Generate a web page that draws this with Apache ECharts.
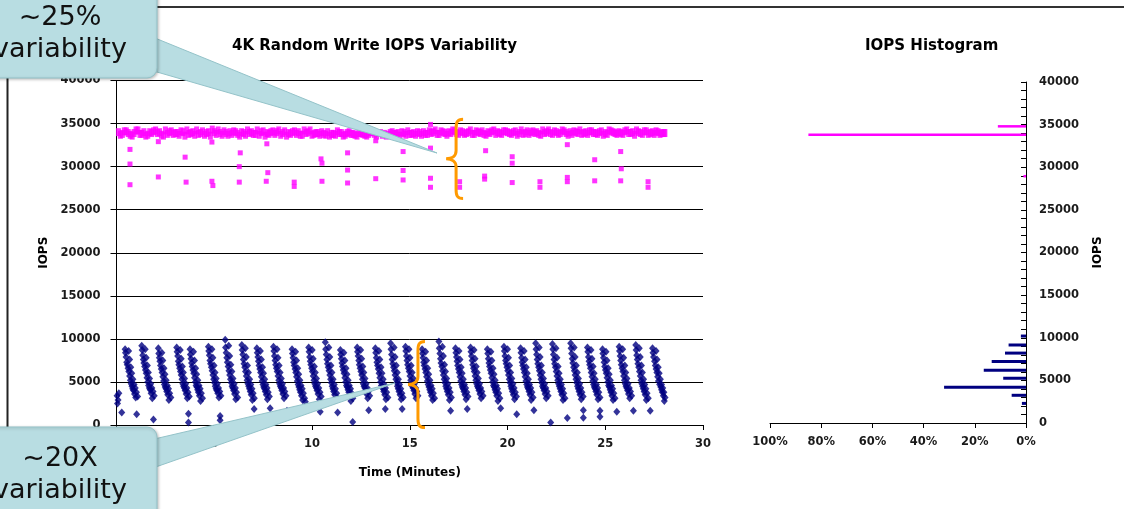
<!DOCTYPE html>
<html>
<head>
<meta charset="utf-8">
<script src="https://cdn.jsdelivr.net/npm/echarts@6/dist/echarts.min.js"></script>
<style>
html,body{margin:0;padding:0;background:#fff;}
#c{width:1124px;height:509px;}
</style>
</head>
<body>
<div id="c"></div>
<script>
// ---------- DATA ----------
const chartTitle = '4K Random Write IOPS Variability';
const histTitle = 'IOPS Histogram';
const xAxisName = 'Time (Minutes)';
const yAxisName = 'IOPS';

// Blue series (lower, ~20X variability): [minutes, IOPS]
const blueIops = [
[0.03,3400],[0.05,2500],[0.08,2900],[0.12,3700],
[0.44,8800],[0.46,8400],[0.49,7900],[0.52,7300],[0.55,7000],[0.59,6600],[0.63,6200],[0.67,5700],[0.71,5200],[0.75,4800],[0.79,4500],[0.83,4200],[0.87,4000],[0.92,3600],[0.98,3200],
[1.29,9200],[1.31,8700],[1.34,8100],[1.37,7600],[1.40,7200],[1.44,6800],[1.48,6400],[1.52,6000],[1.56,5500],[1.60,5000],[1.64,4600],[1.68,4300],[1.72,4100],[1.77,3700],[1.83,3100],
[2.14,8900],[2.16,8300],[2.19,7800],[2.22,7400],[2.25,6900],[2.29,6500],[2.33,6100],[2.37,5600],[2.41,5100],[2.45,4700],[2.49,4400],[2.53,4200],[2.57,3900],[2.62,3500],[2.68,2900],
[3.08,9000],[3.10,8500],[3.13,8000],[3.16,7400],[3.19,7000],[3.23,6600],[3.27,6200],[3.31,5800],[3.35,5300],[3.39,4800],[3.43,4500],[3.47,4300],[3.51,4000],[3.56,3600],[3.62,3100],
[3.76,8800],[3.78,8200],[3.81,7700],[3.84,7200],[3.87,6800],[3.91,6400],[3.95,6000],[3.99,5500],[4.03,5000],[4.07,4600],[4.11,4400],[4.15,4100],[4.19,3800],[4.24,3400],[4.30,2800],
[4.70,9100],[4.72,8600],[4.75,8100],[4.78,7500],[4.81,7100],[4.85,6700],[4.89,6300],[4.93,5800],[4.97,5300],[5.01,4900],[5.05,4500],[5.09,4200],[5.13,4000],[5.18,3700],[5.24,3200],
[5.56,9900],[5.58,9000],[5.61,8400],[5.64,7800],[5.67,7300],[5.71,6800],[5.75,6300],[5.79,5800],[5.83,5300],[5.87,4900],[5.91,4500],[5.95,4300],[5.99,4000],[6.04,3600],[6.10,3000],
[6.41,9300],[6.43,8700],[6.46,8200],[6.49,7600],[6.52,7100],[6.56,6700],[6.60,6200],[6.64,5700],[6.68,5200],[6.72,4800],[6.76,4500],[6.80,4200],[6.84,3900],[6.89,3500],[6.95,2900],
[7.18,8900],[7.20,8400],[7.23,7900],[7.26,7400],[7.29,6900],[7.33,6500],[7.37,6100],[7.41,5600],[7.45,5100],[7.49,4700],[7.53,4400],[7.57,4200],[7.61,3900],[7.66,3500],[7.72,3000],
[8.03,9100],[8.05,8600],[8.08,8000],[8.11,7500],[8.14,7000],[8.18,6600],[8.22,6200],[8.26,5700],[8.30,5200],[8.34,4800],[8.38,4500],[8.42,4300],[8.46,4000],[8.51,3600],[8.57,3100],
[8.98,8800],[9.00,8300],[9.03,7800],[9.06,7300],[9.09,6900],[9.13,6500],[9.17,6100],[9.21,5600],[9.25,5100],[9.29,4700],[9.33,4400],[9.37,4100],[9.41,3800],[9.46,3400],[9.52,2900],
[9.83,9000],[9.85,8500],[9.88,7900],[9.91,7400],[9.94,7000],[9.98,6600],[10.02,6200],[10.06,5700],[10.10,5200],[10.14,4800],[10.18,4500],[10.22,4300],[10.26,4000],[10.31,3600],[10.37,3000],
[10.68,9600],[10.70,8800],[10.73,8200],[10.76,7600],[10.79,7100],[10.83,6700],[10.87,6300],[10.91,5800],[10.95,5300],[10.99,4900],[11.03,4500],[11.07,4200],[11.11,3900],[11.16,3500],[11.22,2900],
[11.45,8700],[11.47,8200],[11.50,7700],[11.53,7200],[11.56,6800],[11.60,6400],[11.64,6000],[11.68,5500],[11.72,5000],[11.76,4600],[11.80,4400],[11.84,4100],[11.88,3800],[11.93,3400],[11.99,2800],
[12.31,9000],[12.33,8500],[12.36,8000],[12.39,7500],[12.42,7000],[12.46,6600],[12.50,6200],[12.54,5800],[12.58,5300],[12.62,4800],[12.66,4500],[12.70,4300],[12.74,4000],[12.79,3600],[12.85,3100],
[13.24,8900],[13.26,8400],[13.29,7800],[13.32,7300],[13.35,6900],[13.39,6500],[13.43,6000],[13.47,5500],[13.51,5000],[13.55,4600],[13.59,4400],[13.63,4200],[13.67,3900],[13.72,3500],[13.78,3000],
[14.02,9500],[14.04,8800],[14.07,8200],[14.10,7600],[14.13,7100],[14.17,6700],[14.21,6300],[14.25,5800],[14.29,5300],[14.33,4900],[14.37,4500],[14.41,4200],[14.45,3900],[14.50,3500],[14.56,3000],
[14.78,9100],[14.80,8600],[14.83,8000],[14.86,7500],[14.89,7000],[14.93,6600],[14.97,6200],[15.01,5700],[15.05,5200],[15.09,4800],[15.13,4500],[15.17,4300],[15.21,4000],[15.26,3600],[15.32,3100],
[15.63,8800],[15.65,8300],[15.68,7800],[15.71,7300],[15.74,6900],[15.78,6500],[15.82,6100],[15.86,5600],[15.90,5100],[15.94,4700],[15.98,4400],[16.02,4100],[16.06,3800],[16.11,3400],[16.17,2900],
[16.49,9700],[16.51,8900],[16.54,8300],[16.57,7700],[16.60,7200],[16.64,6800],[16.68,6300],[16.72,5800],[16.76,5300],[16.80,4900],[16.84,4500],[16.88,4200],[16.92,3900],[16.97,3500],[17.03,2900],
[17.34,8900],[17.36,8400],[17.39,7900],[17.42,7400],[17.45,6900],[17.49,6500],[17.53,6100],[17.57,5600],[17.61,5100],[17.65,4700],[17.69,4400],[17.73,4200],[17.77,3900],[17.82,3500],[17.88,3000],
[18.11,9000],[18.13,8500],[18.16,8000],[18.19,7500],[18.22,7000],[18.26,6600],[18.30,6200],[18.34,5700],[18.38,5200],[18.42,4800],[18.46,4500],[18.50,4300],[18.54,4000],[18.59,3600],[18.65,3100],
[18.97,8800],[18.99,8300],[19.02,7700],[19.05,7200],[19.08,6800],[19.12,6400],[19.16,6000],[19.20,5500],[19.24,5000],[19.28,4600],[19.32,4400],[19.36,4100],[19.40,3800],[19.45,3400],[19.51,2800],
[19.82,9100],[19.84,8600],[19.87,8000],[19.90,7500],[19.93,7100],[19.97,6700],[20.01,6300],[20.05,5800],[20.09,5300],[20.13,4900],[20.17,4500],[20.21,4200],[20.25,3900],[20.30,3500],[20.36,3000],
[20.67,8900],[20.69,8400],[20.72,7800],[20.75,7300],[20.78,6900],[20.82,6500],[20.86,6100],[20.90,5600],[20.94,5100],[20.98,4700],[21.02,4400],[21.06,4200],[21.10,3900],[21.15,3500],[21.21,2900],
[21.44,9500],[21.46,8800],[21.49,8200],[21.52,7600],[21.55,7100],[21.59,6700],[21.63,6300],[21.67,5800],[21.71,5300],[21.75,4900],[21.79,4500],[21.83,4300],[21.87,4000],[21.92,3600],[21.98,3100],
[22.30,9400],[22.32,8800],[22.35,8200],[22.38,7600],[22.41,7100],[22.45,6700],[22.49,6200],[22.53,5700],[22.57,5200],[22.61,4800],[22.65,4500],[22.69,4200],[22.73,3900],[22.78,3500],[22.84,2900],
[23.23,9500],[23.25,8900],[23.28,8300],[23.31,7700],[23.34,7200],[23.38,6700],[23.42,6300],[23.46,5800],[23.50,5300],[23.54,4900],[23.58,4500],[23.62,4200],[23.66,3900],[23.71,3500],[23.77,3000],
[24.09,9000],[24.11,8500],[24.14,7900],[24.17,7400],[24.20,7000],[24.24,6600],[24.28,6100],[24.32,5600],[24.36,5100],[24.40,4700],[24.44,4400],[24.48,4200],[24.52,3900],[24.57,3500],[24.63,3000],
[24.86,8800],[24.88,8300],[24.91,7800],[24.94,7300],[24.97,6800],[25.01,6400],[25.05,6000],[25.09,5500],[25.13,5000],[25.17,4600],[25.21,4400],[25.25,4100],[25.29,3800],[25.34,3400],[25.40,2900],
[25.71,9100],[25.73,8600],[25.76,8000],[25.79,7500],[25.82,7000],[25.86,6600],[25.90,6200],[25.94,5700],[25.98,5200],[26.02,4800],[26.06,4500],[26.10,4300],[26.14,4000],[26.19,3600],[26.25,3100],
[26.56,9300],[26.58,8700],[26.61,8100],[26.64,7600],[26.67,7100],[26.71,6700],[26.75,6200],[26.79,5700],[26.83,5200],[26.87,4800],[26.91,4500],[26.95,4200],[26.99,3900],[27.04,3500],[27.10,2900],
[27.42,8900],[27.44,8400],[27.47,7900],[27.52,7400],[27.56,6900],[27.60,6500],[27.64,6100],[27.68,5600],[27.72,5100],[27.78,4700],[27.84,4400],[27.88,4100],[27.92,3800],[27.97,3400],[28.02,2800]
];
// second, trailing strand of each burst
const blueTrail = [
[0.62,8600],[0.67,7600],[0.73,6700],[0.78,6000],[0.84,5300],[0.90,4700],[0.96,4300],[1.02,3800],[1.08,3300],
[1.47,8800],[1.52,7800],[1.58,6900],[1.63,6100],[1.69,5400],[1.75,4800],[1.81,4300],[1.87,3900],[1.93,3400],
[2.32,8400],[2.37,7500],[2.43,6600],[2.48,5900],[2.54,5200],[2.60,4600],[2.66,4200],[2.72,3700],[2.78,3200],
[3.26,8700],[3.31,7700],[3.37,6800],[3.42,6100],[3.48,5400],[3.54,4800],[3.60,4300],[3.66,3800],[3.72,3300],
[3.94,8500],[3.99,7500],[4.05,6600],[4.10,5900],[4.16,5200],[4.22,4600],[4.28,4200],[4.34,3700],[4.40,3100],
[4.88,8800],[4.93,7800],[4.99,6900],[5.04,6100],[5.10,5400],[5.16,4800],[5.22,4300],[5.28,3900],[5.34,3400],
[5.74,9200],[5.79,8000],[5.85,7000],[5.90,6200],[5.96,5400],[6.02,4800],[6.08,4300],[6.14,3800],[6.20,3200],
[6.59,8900],[6.64,7900],[6.70,6900],[6.75,6100],[6.81,5300],[6.87,4700],[6.93,4200],[6.99,3700],[7.05,3100],
[7.36,8600],[7.41,7600],[7.47,6700],[7.52,6000],[7.58,5300],[7.64,4700],[7.70,4300],[7.76,3800],[7.82,3300],
[8.21,8800],[8.26,7800],[8.32,6900],[8.37,6100],[8.43,5400],[8.49,4800],[8.55,4300],[8.61,3900],[8.67,3400],
[9.16,8500],[9.21,7500],[9.27,6600],[9.32,5900],[9.38,5200],[9.44,4600],[9.50,4200],[9.56,3700],[9.62,3100],
[10.01,8700],[10.06,7700],[10.12,6800],[10.17,6100],[10.23,5400],[10.29,4800],[10.35,4300],[10.41,3800],[10.47,3300],
[10.86,9000],[10.91,7900],[10.97,6900],[11.02,6100],[11.08,5300],[11.14,4700],[11.20,4200],[11.26,3700],[11.32,3100],
[11.63,8400],[11.68,7500],[11.74,6600],[11.79,5900],[11.85,5200],[11.91,4600],[11.97,4200],[12.03,3700],[12.09,3100],
[12.49,8700],[12.54,7700],[12.60,6800],[12.65,6100],[12.71,5400],[12.77,4800],[12.83,4300],[12.89,3900],[12.95,3400],
[13.42,8600],[13.47,7600],[13.53,6700],[13.58,6000],[13.64,5300],[13.70,4700],[13.76,4300],[13.82,3800],[13.88,3200],
[14.20,9000],[14.25,7900],[14.31,6900],[14.36,6100],[14.42,5300],[14.48,4700],[14.54,4200],[14.60,3700],[14.66,3200],
[14.96,8800],[15.01,7800],[15.07,6900],[15.12,6100],[15.18,5400],[15.24,4800],[15.30,4300],[15.36,3900],[15.42,3400],
[15.81,8500],[15.86,7500],[15.92,6600],[15.97,5900],[16.03,5200],[16.09,4600],[16.15,4200],[16.21,3700],[16.27,3100],
[16.67,9100],[16.72,8000],[16.78,7000],[16.83,6200],[16.89,5400],[16.95,4800],[17.01,4300],[17.07,3800],[17.13,3200],
[17.52,8600],[17.57,7600],[17.63,6700],[17.68,6000],[17.74,5300],[17.80,4700],[17.86,4300],[17.92,3800],[17.98,3300],
[18.29,8700],[18.34,7700],[18.40,6800],[18.45,6100],[18.51,5400],[18.57,4800],[18.63,4300],[18.69,3900],[18.75,3400],
[19.15,8500],[19.20,7500],[19.26,6600],[19.31,5900],[19.37,5200],[19.43,4600],[19.49,4200],[19.55,3700],[19.61,3100],
[20.00,8800],[20.05,7800],[20.11,6900],[20.16,6100],[20.22,5400],[20.28,4800],[20.34,4300],[20.40,3800],[20.46,3300],
[20.85,8600],[20.90,7600],[20.96,6700],[21.01,6000],[21.07,5300],[21.13,4700],[21.19,4300],[21.25,3800],[21.31,3200],
[21.62,9000],[21.67,7900],[21.73,6900],[21.78,6100],[21.84,5400],[21.90,4800],[21.96,4300],[22.02,3900],[22.08,3400],
[22.48,8900],[22.53,7800],[22.59,6800],[22.64,6000],[22.70,5300],[22.76,4700],[22.82,4200],[22.88,3700],[22.94,3100],
[23.41,9000],[23.46,7900],[23.52,6900],[23.57,6100],[23.63,5400],[23.69,4800],[23.75,4300],[23.81,3800],[23.87,3300],
[24.27,8700],[24.32,7700],[24.38,6800],[24.43,6000],[24.49,5300],[24.55,4700],[24.61,4300],[24.67,3800],[24.73,3200],
[25.04,8500],[25.09,7500],[25.15,6600],[25.20,5900],[25.26,5200],[25.32,4600],[25.38,4200],[25.44,3700],[25.50,3100],
[25.89,8800],[25.94,7800],[26.00,6900],[26.05,6100],[26.11,5400],[26.17,4800],[26.23,4300],[26.29,3900],[26.35,3400],
[26.74,8900],[26.79,7900],[26.85,6900],[26.90,6100],[26.96,5300],[27.02,4700],[27.08,4200],[27.14,3700],[27.20,3100],
[27.60,8600],[27.65,7600],[27.71,6700],[27.76,6000],[27.82,5300],[27.88,4700],[27.94,4300],[28.00,3800],[28.06,3200]
];
const blueLow = [
[0.27,1450],[1.03,1250],[1.89,650],[3.68,1300],[3.68,300],[5.30,1050],[5.30,550],[7.04,1850],[7.86,1950],[8.72,1650],
[9.66,2700],[10.42,1550],[11.31,1450],[12.08,350],[12.90,1700],[13.75,1850],[14.61,1850],[17.09,1650],[17.94,1850],[19.65,1950],
[20.47,1250],[21.35,1700],[22.21,300],[23.06,800],[23.88,1700],[23.88,850],[24.73,1650],[24.73,950],[25.59,1550],[26.44,1650],[27.30,1650]
];

// Magenta series (upper, ~25% variability): main band and drop-outs
const magentaBand = [
[0.1,34000],[0.3,33800],[0.5,34100],[0.7,33700],[0.9,33900],[1.1,34200],[1.3,33800],[1.5,33600],[1.7,34000],[1.9,34100],
[2.1,33900],[2.3,33700],[2.5,34200],[2.7,34000],[2.9,33800],[3.1,33900],[3.3,34100],[3.5,33600],[3.7,33800],[3.9,34000],
[4.1,34200],[4.3,33900],[4.5,33700],[4.7,34000],[4.9,34300],[5.1,33800],[5.3,33900],[5.5,34100],[5.7,33700],[5.9,33800],
[6.1,34000],[6.3,33600],[6.5,33900],[6.7,34200],[6.9,34000],[7.1,33800],[7.3,33700],[7.5,34100],[7.7,33900],[7.9,34000],
[8.1,33800],[8.3,34200],[8.5,33900],[8.7,33600],[8.9,33800],[9.1,34100],[9.3,34000],[9.5,33700],[9.7,33900],[9.9,34200],
[10.1,33800],[10.3,33900],[10.5,34000],[10.7,33700],[10.9,33600],[11.1,33800],[11.3,34100],[11.5,33900],[11.7,33700],[11.9,34000],
[12.1,33800],[12.3,33600],[12.5,33900],[12.7,33700],[12.9,33800],[13.1,34000],[13.3,33600],[13.5,33900],[13.7,33800],[13.9,33700],
[14.1,34000],[14.3,33800],[14.5,33600],[14.7,33900],[14.9,34100],[15.1,33800],[15.3,33700],[15.5,33900],[15.7,34000],[15.9,33800],
[16.1,33900],[16.3,34200],[16.5,33800],[16.7,34000],[16.9,33700],[17.1,33900],[17.3,34100],[17.5,33800],[17.7,34000],[17.9,33900],
[18.1,34200],[18.3,33800],[18.5,34000],[18.7,34100],[18.9,33700],[19.1,33900],[19.3,34200],[19.5,34000],[19.7,33800],[19.9,34100],
[20.1,33900],[20.3,34000],[20.5,33700],[20.7,34200],[20.9,33900],[21.1,33800],[21.3,34100],[21.5,34000],[21.7,33700],[21.9,33900],
[22.1,34200],[22.3,33800],[22.5,34000],[22.7,33900],[22.9,34100],[23.1,33700],[23.3,33800],[23.5,34000],[23.7,34200],[23.9,33900],
[24.1,33800],[24.3,34100],[24.5,33900],[24.7,34000],[24.9,33700],[25.1,33800],[25.3,34100],[25.5,33900],[25.7,34000],[25.9,33800],
[26.1,34200],[26.3,33900],[26.5,33700],[26.7,34000],[26.9,33800],[27.1,34100],[27.3,33900],[27.5,33800],[27.7,34000],[27.9,33900],
[28.05,33900],
[0.2,33700],[0.4,34100],[0.6,33900],[0.8,33600],[1.0,34200],[1.2,33800],[1.4,34000],[1.6,33700],[1.8,33900],[2.0,34200],
[2.2,34000],[2.4,33600],[2.6,33800],[2.8,34100],[3.0,33900],[3.2,33700],[3.4,34000],[3.6,34200],[3.8,33900],[4.0,33700],
[4.2,33800],[4.4,34100],[4.6,33900],[4.8,33600],[5.0,34000],[5.2,34200],[5.4,33700],[5.6,33900],[5.8,34000],[6.0,34100],
[6.2,33800],[6.4,34000],[6.6,33700],[6.8,33900],[7.0,33800],[7.2,34200],[7.4,34000],[7.6,33600],[7.8,33800],[8.0,34100],
[8.2,34000],[8.4,33700],[8.6,34100],[8.8,33900],[9.0,34000],[9.2,33800],[9.4,33700],[9.6,34200],[9.8,34000],[10.0,33700],
[10.2,33900],[10.4,33700],[10.6,33800],[10.8,34000],[11.0,33800],[11.2,33700],[11.4,33900],[11.6,33600],[11.8,33900],[12.0,33800],
[12.2,33700],[12.4,33900],[12.6,33800],[12.8,33600],[13.0,34000],[13.2,33800],[13.4,33900],[13.6,33700],[13.8,33600],[14.0,33900],
[14.2,33800],[14.4,33900],[14.6,34000],[14.8,33700],[15.0,33800],[15.2,33900],[15.4,34000],[15.6,33700],[15.8,33800],[16.0,34100],
[16.2,34000],[16.4,33800],[16.6,34100],[16.8,33900],[17.0,34000],[17.2,34200],[17.4,33900],[17.6,34100],[17.8,33800],[18.0,34000],
[18.2,33800],[18.4,34100],[18.6,33900],[18.8,33800],[19.0,34000],[19.2,34100],[19.4,33800],[19.6,33900],[19.8,34100],[20.0,34000],
[20.2,33800],[20.4,34100],[20.6,33900],[20.8,33800],[21.0,34100],[21.2,34000],[21.4,33900],[21.6,33800],[21.8,34200],[22.0,34000],
[22.2,33900],[22.4,34100],[22.6,33800],[22.8,34200],[23.0,33900],[23.2,34000],[23.4,34100],[23.6,33900],[23.8,33800],[24.0,34000],
[24.2,34100],[24.4,33900],[24.6,33800],[24.8,34100],[25.0,33900],[25.2,34200],[25.4,34000],[25.6,33800],[25.8,33900],[26.0,34100],
[26.2,33900],[26.4,34000],[26.6,34200],[26.8,33900],[27.0,34100],[27.2,33800],[27.4,34000],[27.6,34100],[27.8,33800],[28.0,33900]
];
const magentaDrops = [
[0.69,32000],[0.69,30300],[0.69,27900],[2.14,32900],[2.14,28800],[3.51,31100],[3.56,28200],[4.88,32850],[4.88,28300],[4.93,27800],
[6.33,31600],[6.28,30000],[6.28,28200],[7.69,32650],[7.74,29300],[7.66,28300],[9.09,28200],[9.09,27700],[10.46,30900],[10.51,30400],
[10.51,28300],[11.82,31600],[11.82,29600],[11.82,28100],[13.26,33000],[13.26,28600],[14.66,31750],[14.66,29550],[14.66,28450],[16.06,34900],
[16.06,32150],[16.06,28650],[16.06,27600],[17.55,28250],[17.55,27600],[18.88,31850],[18.83,28900],[18.83,28550],[20.24,31150],[20.24,30400],
[20.24,28150],[21.66,28250],[21.66,27600],[23.06,32550],[23.06,28750],[23.06,28250],[24.46,30800],[24.46,28350],[25.79,31750],[25.82,29750],
[25.79,28350],[27.19,28250],[27.19,27600]
];

// Histogram: [percent of samples, IOPS bin]
const histBlue = [[1.6,2300],[5.6,3250],[32,4200],[8.9,5250],[16.5,6200],[13.4,7200],[8.2,8200],[6.8,9150],[2,10200]];
const histMagenta = [[1,28950],[85,33800],[11,34800]];

// Annotation braces: [minutes, top IOPS, bottom IOPS]
const braces = [[17.37, 35500, 26300], [15.42, 9700, -300]];
const topNote = ['~25%', 'variability'];
const bottomNote = ['~20X', 'variability'];

// ---------- CHART ----------
const BLUE = '#000080', MAG = '#ff00ff';
const labelFont = {fontFamily:'DejaVu Sans', fontWeight:'bold', fontSize:11.5, color:'#1a1a1a'};
const blackLine = {lineStyle:{color:'#000', width:1}};
const plain = v => String(v);

const chart = echarts.init(document.getElementById('c'), null, {renderer:'canvas'});

function histItem(params, api) {
  const p0 = api.coord([0, api.value(1)]);
  const p1 = api.coord([api.value(0), api.value(1)]);
  return {type:'line', shape:{x1:p0[0], y1:p0[1], x2:p1[0], y2:p1[1]},
          style:{stroke:api.visual('color'), lineWidth: params.seriesName === 'histM' ? 2.5 : 3}};
}

function braceItem(params, api) {
  const a = api.coord([api.value(0), api.value(1)]);
  const b = api.coord([api.value(0), api.value(2)]);
  const x = a[0], y1 = a[1], y2 = b[1], ym = (y1 + y2) / 2;
  const d = 'M' + (x + 7) + ',' + y1 + ' C' + (x + 1) + ',' + y1 + ' ' + x + ',' + (y1 + 3) + ' ' + x + ',' + (y1 + 9) +
    ' L' + x + ',' + (ym - 8) + ' C' + x + ',' + (ym - 3) + ' ' + (x - 4) + ',' + ym + ' ' + (x - 10) + ',' + ym +
    ' C' + (x - 4) + ',' + ym + ' ' + x + ',' + (ym + 3) + ' ' + x + ',' + (ym + 8) +
    ' L' + x + ',' + (y2 - 9) + ' C' + x + ',' + (y2 - 3) + ' ' + (x + 1) + ',' + y2 + ' ' + (x + 7) + ',' + y2;
  return {type:'path', shape:{pathData:d}, style:{fill:'none', stroke:'#ff9a00', lineWidth:3}};
}

const calloutFill = '#b8dde2';
const calloutStroke = '#94c3c9';

chart.setOption({
  animation:false,
  backgroundColor:'#fff',
  title:[
    {text:chartTitle, left:227, top:34, textStyle:{fontFamily:'DejaVu Sans', fontWeight:'bold', fontSize:15, color:'#000'}},
    {text:histTitle, left:860, top:34, textStyle:{fontFamily:'DejaVu Sans', fontWeight:'bold', fontSize:15, color:'#000'}}
  ],
  grid:[
    {left:116.5, right:421, top:80.5, bottom:84},
    {left:770, right:98, top:82, bottom:86}
  ],
  xAxis:[
    {gridIndex:0, type:'value', min:0, max:30, interval:5,
     name:xAxisName, nameLocation:'middle', nameGap:42,
     nameTextStyle:{fontFamily:'DejaVu Sans', fontWeight:'bold', fontSize:12, color:'#000'},
     axisLine:{show:true, ...blackLine}, axisTick:{show:true, length:5, ...blackLine},
     axisLabel:{...labelFont, margin:13, formatter:plain}, splitLine:{show:false}},
    {gridIndex:1, type:'value', min:0, max:100, interval:20, inverse:true,
     axisLine:{show:true, ...blackLine}, axisTick:{show:true, length:5, ...blackLine},
     axisLabel:{...labelFont, margin:13, formatter:'{value}%'}, splitLine:{show:false}}
  ],
  yAxis:[
    {gridIndex:0, type:'value', min:0, max:40000, interval:5000,
     name:yAxisName, nameLocation:'middle', nameGap:60, nameRotate:90,
     nameTextStyle:{fontFamily:'DejaVu Sans', fontWeight:'bold', fontSize:12, color:'#000'},
     axisLine:{show:true, ...blackLine}, axisTick:{show:true, length:6, ...blackLine},
     axisLabel:{...labelFont, margin:16, formatter:plain}, splitLine:{show:true, lineStyle:{color:'#000', width:1}}},
    {gridIndex:1, type:'value', position:'right', min:0, max:40000, interval:5000,
     name:yAxisName, nameLocation:'middle', nameGap:66, nameRotate:90,
     nameTextStyle:{fontFamily:'DejaVu Sans', fontWeight:'bold', fontSize:12, color:'#000'},
     axisLine:{show:true, ...blackLine}, axisTick:{show:true, inside:true, length:5, ...blackLine},
     minorTick:{show:true, splitNumber:5, length:5, lineStyle:{color:'#000', width:1}},
     axisLabel:{...labelFont, margin:13, formatter:plain}, splitLine:{show:false}}
  ],
  series:[
    {name:'magentaBand', type:'scatter', xAxisIndex:0, yAxisIndex:0, data:magentaBand,
     symbol:'rect', symbolSize:[5,8], itemStyle:{color:MAG}},
    {name:'magentaDrops', type:'scatter', xAxisIndex:0, yAxisIndex:0, data:magentaDrops,
     symbol:'rect', symbolSize:5, itemStyle:{color:MAG}},
    {name:'blue', type:'scatter', xAxisIndex:0, yAxisIndex:0, data:blueIops,
     symbol:'diamond', symbolSize:[7,8], itemStyle:{color:BLUE}},
    {name:'blueTrail', type:'scatter', xAxisIndex:0, yAxisIndex:0, data:blueTrail,
     symbol:'diamond', symbolSize:[7,8], itemStyle:{color:BLUE}},
    {name:'blueLow', type:'scatter', xAxisIndex:0, yAxisIndex:0, data:blueLow,
     symbol:'diamond', symbolSize:[7,8], itemStyle:{color:BLUE}},
    {name:'histB', type:'custom', xAxisIndex:1, yAxisIndex:1, data:histBlue,
     renderItem:histItem, itemStyle:{color:BLUE}, clip:false},
    {name:'histM', type:'custom', xAxisIndex:1, yAxisIndex:1, data:histMagenta,
     renderItem:histItem, itemStyle:{color:MAG}, clip:false},
    {name:'braces', type:'custom', xAxisIndex:0, yAxisIndex:0, data:braces, z:20,
     renderItem:braceItem, clip:false, silent:true}
  ],
  graphic:[
    {type:'line', z:50, shape:{x1:7.5, y1:0, x2:7.5, y2:509}, style:{stroke:'#222', lineWidth:2}},
    {type:'line', z:50, shape:{x1:0, y1:7, x2:1124, y2:7}, style:{stroke:'#333', lineWidth:2}},
    // top callout
    {type:'polygon', z:100, shape:{points:[[150,36],[150,70],[437,153]]},
     style:{fill:calloutFill, stroke:calloutStroke, lineWidth:1}},
    {type:'rect', z:101, shape:{x:-20, y:-20, width:177, height:98, r:10},
     style:{fill:calloutFill, stroke:calloutStroke, lineWidth:1, shadowBlur:3, shadowColor:'rgba(0,0,0,0.25)', shadowOffsetX:1, shadowOffsetY:1}},
    {type:'text', z:102, x:60, y:18, style:{text:topNote[0], fontFamily:'DejaVu Sans', fontSize:27, fill:'#111', align:'center', verticalAlign:'middle'}},
    {type:'text', z:102, x:60, y:50, style:{text:topNote[1], fontFamily:'DejaVu Sans', fontSize:27, fill:'#111', align:'center', verticalAlign:'middle'}},
    // bottom callout
    {type:'polygon', z:100, shape:{points:[[150,440],[150,469],[395,383]]},
     style:{fill:calloutFill, stroke:calloutStroke, lineWidth:1}},
    {type:'rect', z:101, shape:{x:-20, y:427, width:177, height:110, r:10},
     style:{fill:calloutFill, stroke:calloutStroke, lineWidth:1, shadowBlur:3, shadowColor:'rgba(0,0,0,0.25)', shadowOffsetX:1, shadowOffsetY:1}},
    {type:'text', z:102, x:60, y:459, style:{text:bottomNote[0], fontFamily:'DejaVu Sans', fontSize:27, fill:'#111', align:'center', verticalAlign:'middle'}},
    {type:'text', z:102, x:60, y:491, style:{text:bottomNote[1], fontFamily:'DejaVu Sans', fontSize:27, fill:'#111', align:'center', verticalAlign:'middle'}}
  ]
});
</script>
</body>
</html>
